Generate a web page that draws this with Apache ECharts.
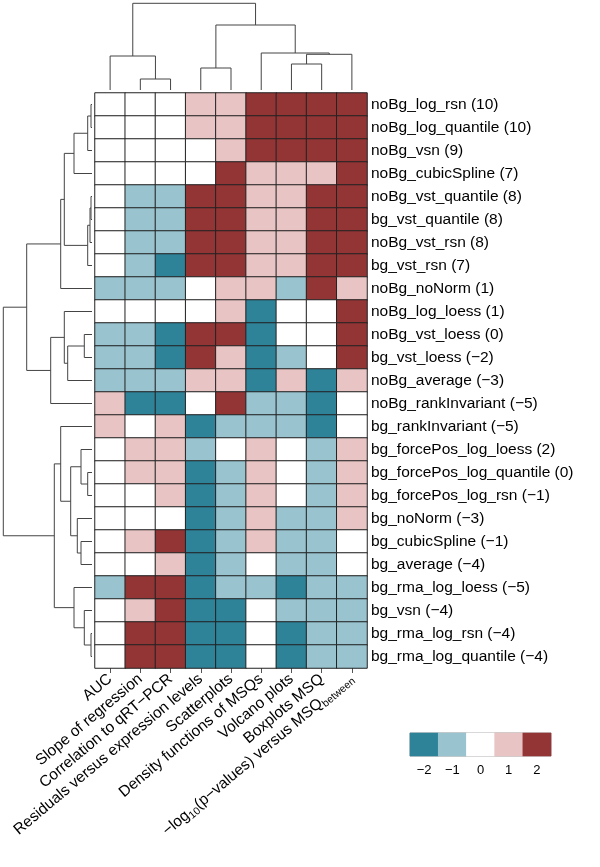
<!DOCTYPE html>
<html><head><meta charset="utf-8">
<script src="https://cdn.jsdelivr.net/npm/echarts@6/dist/echarts.min.js"></script>
<style>html,body{margin:0;padding:0;background:#fff}#c{width:600px;height:867px}</style>
</head><body><div id="c"></div>
<script>
// ---------- data ----------
const columns = ['AUC','Slope of regression','Correlation to qRT\u2212PCR','Residuals versus expression levels','Scatterplots','Density functions of MSQs','Volcano plots','Boxplots MSQ','\u2212log10(p\u2212values) versus MSQbetween'];
const rows = ['noBg_log_rsn (10)','noBg_log_quantile (10)','noBg_vsn (9)','noBg_cubicSpline (7)','noBg_vst_quantile (8)','bg_vst_quantile (8)','noBg_vst_rsn (8)','bg_vst_rsn (7)','noBg_noNorm (1)','noBg_log_loess (1)','noBg_vst_loess (0)','bg_vst_loess (\u22122)','noBg_average (\u22123)','noBg_rankInvariant (\u22125)','bg_rankInvariant (\u22125)','bg_forcePos_log_loess (2)','bg_forcePos_log_quantile (0)','bg_forcePos_log_rsn (\u22121)','bg_noNorm (\u22123)','bg_cubicSpline (\u22121)','bg_average (\u22124)','bg_rma_log_loess (\u22125)','bg_vsn (\u22124)','bg_rma_log_rsn (\u22124)','bg_rma_log_quantile (\u22124)'];
const values = [
  [0,0,0,1,1,2,2,2,2],
  [0,0,0,1,1,2,2,2,2],
  [0,0,0,0,1,2,2,2,2],
  [0,0,0,0,2,1,1,1,2],
  [0,-1,-1,2,2,1,1,2,2],
  [0,-1,-1,2,2,1,1,2,2],
  [0,-1,-1,2,2,1,1,2,2],
  [0,-1,-2,2,2,1,1,2,2],
  [-1,-1,-1,0,1,1,-1,2,1],
  [0,0,0,0,1,-2,0,0,2],
  [-1,-1,-2,2,2,-2,0,0,2],
  [-1,-1,-2,2,1,-2,-1,0,2],
  [-1,-1,-1,1,1,-2,1,-2,1],
  [1,-2,-2,0,2,-1,-1,-2,0],
  [1,0,1,-2,-1,-1,-1,-2,0],
  [0,1,1,-1,0,1,0,-1,1],
  [0,1,1,-2,-1,1,0,-1,1],
  [0,0,1,-2,-1,1,0,-1,1],
  [0,0,0,-2,-1,1,-1,-1,1],
  [0,1,2,-2,-1,1,-1,-1,0],
  [0,0,1,-2,-1,0,-1,-1,0],
  [-1,2,2,-2,-1,-1,-2,-1,-1],
  [0,1,2,-2,-2,0,-1,-1,-1],
  [0,2,2,-2,-2,0,-2,-1,-1],
  [0,2,2,-2,-2,0,-2,-1,-1]
];
// dendrogram merges: [a, b, height]; negative = leaf (1-based), positive = earlier merge (1-based)
const rowMerges = [
  [-1,-2,1],[1,-3,4.3],[2,-4,18],[-5,-6,1],[4,-7,2],[5,-8,4.3],[3,6,27.7],[7,-9,31.3],
  [-11,-12,7.7],[9,-13,24.3],[-10,10,27.7],[11,-14,41.3],[8,12,65.3],
  [-17,-18,4.3],[-16,14,11],[-20,-21,11],[-19,16,14.7],[15,17,21.3],[-15,18,31.3],
  [-24,-25,1],[-23,20,7.7],[-22,21,18],[19,22,37.7],[13,23,88.7]
];
const colMerges = [
  [-2,-3,11],[-1,1,34],[-4,-5,22],[-7,-8,26],[4,-9,35.7],[-6,5,37],[3,6,65],[2,7,86.7]
];
const legendValues = [-2,-1,0,1,2];
const legendLabels = ['\u22122','\u22121','0','1','2'];
const palette = ['#2e8399','#98c3cf','#ffffff','#e8c4c4','#943535'];

// ---------- build ----------
function segments(merges){
  const pos=[],hgt=[],out=[];
  merges.forEach(function(m){
    const a=m[0],b=m[1],h=m[2];
    const pa=a<0?-a-1:pos[a-1], ha=a<0?0:hgt[a-1];
    const pb=b<0?-b-1:pos[b-1], hb=b<0?0:hgt[b-1];
    pos.push((pa+pb)/2); hgt.push(h);
    out.push([pa,ha,pb,hb,h]);
  });
  return out;
}
const heatData=[];
values.forEach(function(r,ri){ r.forEach(function(v,ci){ heatData.push([ci,ri,v]); }); });
const legendData = legendValues.map(function(v,i){return [i,0,v];});
const FONT = "'Liberation Sans', Arial, Helvetica, sans-serif";
const lineStyle = {stroke:'#444', lineWidth:1, fill:null};

const chart = echarts.init(document.getElementById('c'), null, {renderer:'canvas'});
chart.setOption({
  animation:false,
  backgroundColor:'#fff',
  textStyle:{fontFamily:FONT},
  grid:[
    {left:95, top:93, width:272, height:575},
    {left:0, top:93, width:92, height:575},
    {left:95, top:0, width:272, height:90},
    {left:410, top:733, width:141, height:23, show:true, borderColor:'#999', borderWidth:1, backgroundColor:'transparent'}
  ],
  xAxis:[
    {gridIndex:0, type:'category', data:columns, position:'bottom',
     axisLine:{show:false}, axisTick:{show:true, alignWithLabel:true, length:5, lineStyle:{color:'#555'}},
     axisLabel:{interval:0, rotate:40, margin:9, fontSize:15.5, color:'#000', fontFamily:FONT,
       formatter:function(v){
         if(v.indexOf('log10')>=0){ return '{n|\u2212log}{s|10}{n|(p\u2212values) versus MSQ}{s|between}'; }
         return v;
       },
       rich:{n:{fontSize:15.5, fontFamily:FONT, color:'#000', lineHeight:18, verticalAlign:'top'},
             s:{fontSize:10.5, fontFamily:FONT, color:'#000', lineHeight:18, verticalAlign:'bottom', padding:[0,0,0,0]}}},
     splitLine:{show:false}},
    {gridIndex:1, type:'value', min:0, max:92, inverse:true, show:false},
    {gridIndex:2, type:'value', min:-0.5, max:columns.length-0.5, show:false},
    {gridIndex:3, type:'category', data:legendLabels, axisLine:{show:false}, axisTick:{show:false},
     axisLabel:{fontSize:13, color:'#000', margin:8, fontFamily:FONT}}
  ],
  yAxis:[
    {gridIndex:0, type:'category', data:rows, inverse:true, position:'right',
     axisLine:{show:false}, axisTick:{show:false},
     axisLabel:{interval:0, fontSize:15.5, color:'#000', margin:4, fontFamily:FONT}, splitLine:{show:false}},
    {gridIndex:1, type:'value', min:-0.5, max:rows.length-0.5, inverse:true, show:false},
    {gridIndex:2, type:'value', min:0, max:90, show:false},
    {gridIndex:3, type:'category', data:[''], show:false}
  ],
  visualMap:{type:'piecewise', show:false, dimension:2, seriesIndex:[0,3],
    pieces:legendValues.map(function(v,i){return {value:v, color:palette[i]};})},
  series:[
    {type:'heatmap', xAxisIndex:0, yAxisIndex:0, data:heatData,
     itemStyle:{borderColor:'#222', borderWidth:1}, emphasis:{disabled:true}},
    {type:'custom', xAxisIndex:1, yAxisIndex:1, data:segments(rowMerges), silent:true,
     renderItem:function(params, api){
       const pa=api.value(0),ha=api.value(1),pb=api.value(2),hb=api.value(3),h=api.value(4);
       return {type:'polyline', shape:{points:[api.coord([ha,pa]),api.coord([h,pa]),api.coord([h,pb]),api.coord([hb,pb])]}, style:lineStyle};
     }},
    {type:'custom', xAxisIndex:2, yAxisIndex:2, data:segments(colMerges), silent:true,
     renderItem:function(params, api){
       const pa=api.value(0),ha=api.value(1),pb=api.value(2),hb=api.value(3),h=api.value(4);
       return {type:'polyline', shape:{points:[api.coord([pa,ha]),api.coord([pa,h]),api.coord([pb,h]),api.coord([pb,hb])]}, style:lineStyle};
     }},
    {type:'heatmap', xAxisIndex:3, yAxisIndex:3, data:legendData,
     itemStyle:{borderWidth:0}, emphasis:{disabled:true}}
  ]
});
</script>
</body></html>
